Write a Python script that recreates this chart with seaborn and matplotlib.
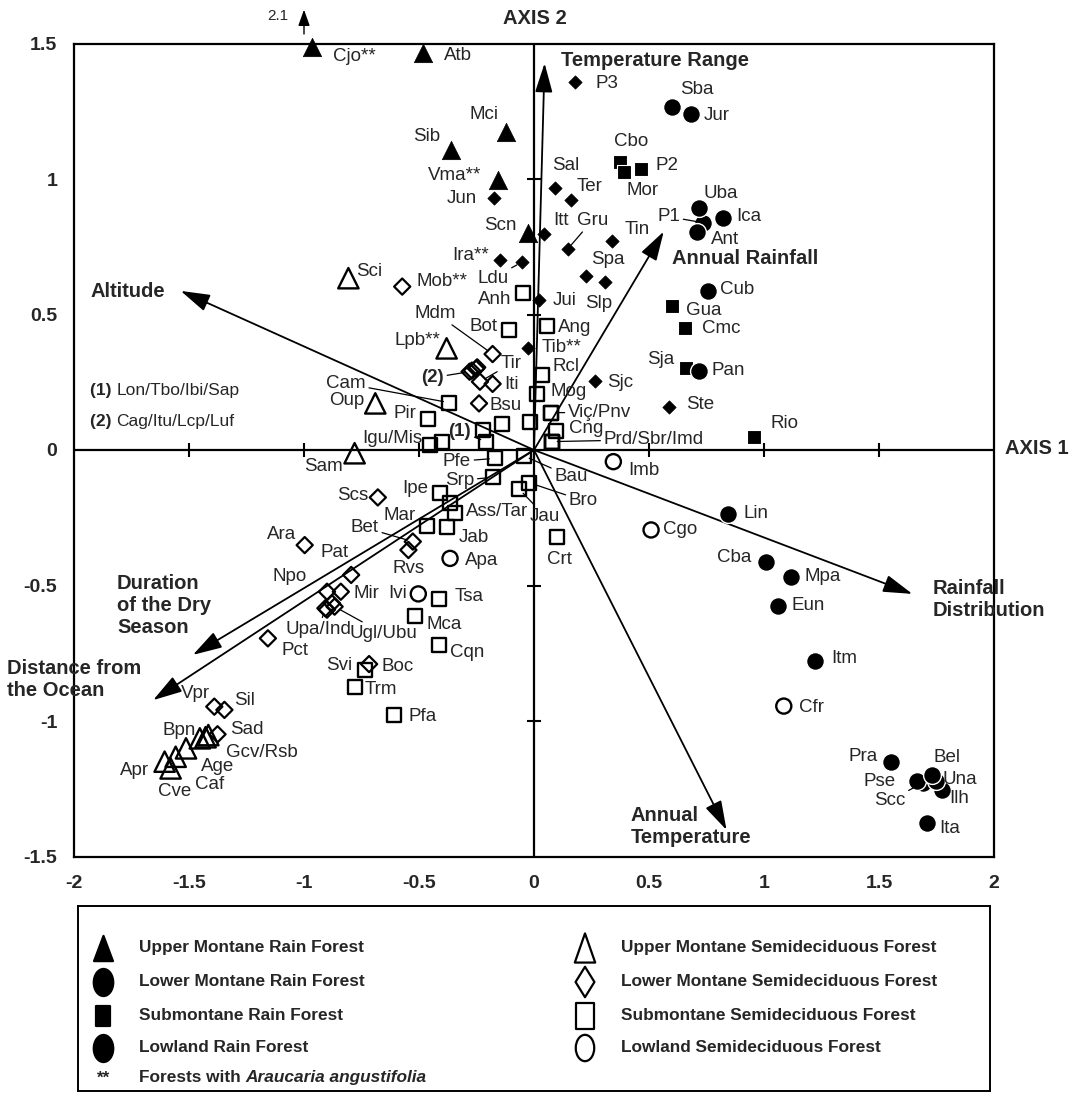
import numpy as np
import pandas as pd
import matplotlib
matplotlib.use("Agg")
import matplotlib.pyplot as plt
from matplotlib.markers import MarkerStyle
from matplotlib.transforms import Affine2D
import seaborn as sns

sns.set_style("white")
plt.rcParams["font.family"] = ["Liberation Sans", "DejaVu Sans"]

# ---------------- site scores (Axis 1, Axis 2) ----------------
umr_sites = ["Cjo", "Atb", "Mci", "Sib", "Vma", "Scn"]
umr_axis1 = [-0.967, -0.483, -0.121, -0.363, -0.155, -0.027]
umr_axis2 = [2.10, 1.464, 1.175, 1.107, 0.996, 0.800]

lmr_sites = ["Jun", "Ira", "Ldu", "P3", "Sal", "Ter", "Itt", "Gru", "Tin",
             "Spa", "Slp", "Jui", "Tib", "Sjc", "Ste"]
lmr_axis1 = [-0.173, -0.148, -0.053, 0.179, 0.091, 0.160, 0.043, 0.146, 0.341,
             0.224, 0.307, 0.023, -0.027, 0.265, 0.587]
lmr_axis2 = [0.929, 0.701, 0.693, 1.359, 0.966, 0.923, 0.796, 0.741, 0.772,
             0.642, 0.621, 0.553, 0.377, 0.256, 0.160]

smr_sites = ["Cbo", "Mor", "P2", "Gua", "Cmc", "Sja", "Rio"]
smr_axis1 = [0.373, 0.393, 0.466, 0.602, 0.658, 0.663, 0.957]
smr_axis2 = [1.064, 1.027, 1.037, 0.531, 0.449, 0.304, 0.049]

lr_sites = ["Sba", "Jur", "P1", "Uba", "Ica", "Ant", "Cub", "Pan", "Lin", "Cba",
            "Mpa", "Eun", "Itm", "Pra", "Scc", "Pse", "Ilh", "Una", "Bel", "Ita"]
lr_axis1 = [0.602, 0.681, 0.733, 0.716, 0.821, 0.708, 0.757, 0.719, 0.844, 1.010,
            1.116, 1.060, 1.222, 1.551, 1.690, 1.664, 1.773, 1.748, 1.729, 1.707]
lr_axis2 = [1.265, 1.240, 0.839, 0.892, 0.857, 0.806, 0.588, 0.293, -0.236, -0.412,
            -0.470, -0.574, -0.779, -1.150, -1.228, -1.220, -1.255, -1.220, -1.199, -1.375]

ums_sites = ["Sci", "Lpb", "Oup", "Sam", "Bpn", "Gcv", "Rsb", "Age", "Caf", "Apr", "Cve"]
ums_axis1 = [-0.807, -0.380, -0.690, -0.780, -1.453, -1.416, -1.428, -1.513, -1.558,
             -1.606, -1.580]
ums_axis2 = [0.634, 0.375, 0.172, -0.012, -1.064, -1.052, -1.060, -1.101, -1.132,
             -1.150, -1.175]

lms_sites = ["Mob", "Mdm", "Cag", "Itu", "Lcp", "Luf", "Tir", "Iti", "Bsu", "Scs",
             "Ara", "Pat", "Npo", "Mir", "Upa", "Ind", "Ugl", "Ubu", "Bet", "Rvs",
             "Pct", "Boc", "Vpr", "Sil", "Sad"]
lms_axis1 = [-0.573, -0.180, -0.280, -0.270, -0.247, -0.252, -0.235, -0.180, -0.239,
             -0.679, -0.997, -0.795, -0.900, -0.840, -0.907, -0.900, -0.867, -0.878,
             -0.527, -0.546, -1.157, -0.717, -1.390, -1.346, -1.376]
lms_axis2 = [0.603, 0.354, 0.289, 0.293, 0.305, 0.300, 0.252, 0.244, 0.172,
             -0.175, -0.351, -0.461, -0.523, -0.523, -0.584, -0.589, -0.578, -0.566,
             -0.338, -0.369, -0.695, -0.790, -0.947, -0.959, -1.049]

sms_sites = ["Anh", "Bot", "Ang", "Rcl", "Mog", "Viç", "Pnv", "Cng", "Prd", "Sbr",
             "Imd", "Cam", "Pir", "Igu", "Mis", "Lon", "Tbo", "Ibi", "Sap", "Pfe",
             "Bau", "Srp", "Bro", "Jau", "Ipe", "Ass", "Tar", "Mar", "Jab", "Crt",
             "Tsa", "Mca", "Cqn", "Svi", "Trm", "Pfa"]
sms_axis1 = [-0.046, -0.109, 0.055, 0.036, 0.012, 0.072, 0.072, 0.096, 0.077, 0.077,
             0.077, -0.370, -0.460, -0.452, -0.401, -0.223, -0.140, -0.209, -0.017,
             -0.170, -0.043, -0.180, -0.020, -0.064, -0.409, -0.343, -0.365, -0.467,
             -0.380, 0.099, -0.412, -0.517, -0.413, -0.735, -0.780, -0.607]
sms_axis2 = [0.578, 0.443, 0.458, 0.277, 0.207, 0.138, 0.138, 0.071, 0.031, 0.031,
             0.031, 0.175, 0.113, 0.018, 0.031, 0.074, 0.096, 0.031, 0.104,
             -0.031, -0.022, -0.101, -0.121, -0.145, -0.160, -0.234, -0.197, -0.280,
             -0.285, -0.322, -0.551, -0.613, -0.720, -0.812, -0.873, -0.978]

ls_sites = ["Imb", "Cgo", "Cfr", "Apa", "Ivi"]
ls_axis1 = [0.345, 0.509, 1.086, -0.365, -0.503]
ls_axis2 = [-0.043, -0.295, -0.945, -0.400, -0.531]

# ---------------- environmental vectors ----------------
env_names = ["Altitude", "Temperature Range", "Annual Rainfall", "Rainfall\nDistribution",
             "Annual\nTemperature", "Duration\nof the Dry\nSeason", "Distance from\nthe Ocean"]
env_axis1 = [-1.536, 0.046, 0.564, 1.645, 0.837, -1.483, -1.656]
env_axis2 = [0.587, 1.427, 0.806, -0.531, -1.402, -0.756, -0.923]

# ---------------- axes ticks ----------------
x_ticks = [-2, -1.5, -1, -0.5, 0, 0.5, 1, 1.5, 2]
x_tick_labels = ["-2", "-1.5", "-1", "-0.5", "0", "0.5", "1", "1.5", "2"]
y_ticks = [-1.5, -1, -0.5, 0, 0.5, 1, 1.5]
y_tick_labels = ["-1.5", "-1", "-0.5", "0", "0.5", "1", "1.5"]

forest_types = [
    ("Upper Montane Rain Forest", umr_sites, umr_axis1, umr_axis2),
    ("Lower Montane Rain Forest", lmr_sites, lmr_axis1, lmr_axis2),
    ("Submontane Rain Forest", smr_sites, smr_axis1, smr_axis2),
    ("Lowland Rain Forest", lr_sites, lr_axis1, lr_axis2),
    ("Upper Montane Semideciduous Forest", ums_sites, ums_axis1, ums_axis2),
    ("Lower Montane Semideciduous Forest", lms_sites, lms_axis1, lms_axis2),
    ("Submontane Semideciduous Forest", sms_sites, sms_axis1, sms_axis2),
    ("Lowland Semideciduous Forest", ls_sites, ls_axis1, ls_axis2),
]
df = pd.DataFrame(
    [(ft, s, a1, a2) for ft, ss, xs, ys in forest_types for s, a1, a2 in zip(ss, xs, ys)],
    columns=["forest", "site", "axis1", "axis2"],
)

Y_TOP = 1.488  # points beyond the frame are pinned to its upper edge
df["shown2"] = df["axis2"].clip(upper=Y_TOP)

marker_style = {
    "Upper Montane Rain Forest": dict(marker="^", s=175, fill=True, lw=0.5, ec="black"),
    "Lower Montane Rain Forest": dict(marker="D", s=46, fill=True, lw=0.5, ec="black"),
    "Submontane Rain Forest": dict(marker="s", s=92, fill=True, lw=0.8, ec="white"),
    "Lowland Rain Forest": dict(marker="o", s=165, fill=True, lw=1.0, ec="white"),
    "Upper Montane Semideciduous Forest": dict(marker="^", s=215, fill=False, lw=1.7, ec="black"),
    "Lower Montane Semideciduous Forest": dict(marker="D", s=68, fill=False, lw=1.6, ec="black"),
    "Submontane Semideciduous Forest": dict(marker="s", s=100, fill=False, lw=1.7, ec="black"),
    "Lowland Semideciduous Forest": dict(marker="o", s=118, fill=False, lw=1.7, ec="black"),
}

W, H = 1075, 1094
fig = plt.figure(figsize=(W / 100, H / 100), dpi=100)
fig.patch.set_facecolor("white")
ax = fig.add_axes([74 / W, 1 - 856.5 / H, 920 / W, 813 / H])
ax.set_xlim(-2, 2)
ax.set_ylim(-1.5, 1.5)

# main axes lines through the origin with small cross ticks
ax.axhline(0, color="black", lw=1.6, zorder=1)
ax.axvline(0, color="black", lw=1.6, zorder=1)
ax.scatter([-1.5, -1, -0.5, 0.5, 1, 1.5], [0] * 6, marker="|", s=90, lw=1.5, color="black", zorder=1)
ax.scatter([0] * 4, [-1, -0.5, 0.5, 1], marker="_", s=100, lw=1.5, color="black", zorder=1)

# environmental vectors
for name, ex, ey in zip(env_names, env_axis1, env_axis2):
    ax.annotate("", xy=(ex, ey), xytext=(0, 0),
                arrowprops=dict(arrowstyle="-|>,head_length=1.0,head_width=0.3",
                                mutation_scale=18, lw=1.3, color="black",
                                shrinkA=0, shrinkB=0), zorder=2)

vec_label_pos = {
    "Altitude": (-1.93, 0.584),
    "Temperature Range": (0.119, 1.439),
    "Annual Rainfall": (0.602, 0.707),
    "Rainfall\nDistribution": (1.733, -0.552),
    "Annual\nTemperature": (0.421, -1.388),
    "Duration\nof the Dry\nSeason": (-1.813, -0.572),
    "Distance from\nthe Ocean": (-2.29, -0.847),
}
for name in env_names:
    lx, ly = vec_label_pos[name]
    ax.text(lx, ly, name, ha="left", va="center", fontsize=14.5, fontweight="bold",
            linespacing=1.2, zorder=6, clip_on=False)

# site markers
for ft, _, _, _ in forest_types:
    st = marker_style[ft]
    sub = df[df["forest"] == ft]
    sns.scatterplot(data=sub, x="axis1", y="shown2", marker=st["marker"], s=st["s"],
                    color="black", ax=ax, legend=False, zorder=3, clip_on=False)
    coll = ax.collections[-1]
    coll.set_facecolor("black" if st["fill"] else "none")
    coll.set_edgecolor(st["ec"])
    coll.set_linewidth(st["lw"])

pos = {r.site: (r.axis1, r.shown2) for r in df.itertuples()}

# value of the point beyond the frame
cjo_y = umr_axis2[umr_sites.index("Cjo")]
ax.annotate("", xy=(-1.0, 1.625), xytext=(-1.0, 1.535), annotation_clip=False,
            arrowprops=dict(arrowstyle="-|>,head_length=0.7,head_width=0.25",
                            mutation_scale=14, lw=1.0, color="black", shrinkA=0, shrinkB=0))
ax.text(-1.07, 1.600, f"{cjo_y:.1f}", ha="right", va="center", fontsize=11, clip_on=False)

# site labels: (text, anchor site, dx px, dy px)
plain_labels = [
    ("Cjo**", "Cjo", 43, -10), ("Atb", "Atb", 35, -2), ("Mci", "Mci", -22, 17),
    ("Sib", "Sib", -24, 14), ("Vma**", "Vma", -44, 5), ("Jun", "Jun", -32, 0),
    ("Scn", "Scn", -27, 8), ("Ira**", "Ira", -29, 5), ("Sci", "Sci", 21, 7),
    ("Mob**", "Mob", 40, 5), ("Anh", "Anh", -29, -6), ("Bot", "Bot", -25, 3),
    ("Lpb**", "Lpb", -29, 8), ("Oup", "Oup", -29, 3), ("Bsu", "Bsu", 27, -2),
    ("Pir", "Pir", -23, 6), ("Igu/Mis", "Igu", -38, 7), ("Iti", "Iti", 19, -1),
    ("Jui", "Jui", 25, 0), ("Ang", "Ang", 28, -2), ("Tib**", "Tib", 34, 0),
    ("Rcl", "Rcl", 24, 8), ("Mog", "Mog", 32, 2), ("Cng", "Cng", 30, 2),
    ("Ipe", "Ipe", -25, 5), ("Ass/Tar", "Ass", 42, 2), ("Mar", "Mar", -27, 10),
    ("Jab", "Jab", 27, -10), ("Crt", "Crt", 3, -22), ("Apa", "Apa", 32, -2),
    ("Rvs", "Rvs", 0, -19), ("Ivi", "Ivi", -21, 0), ("Tsa", "Tsa", 30, 3),
    ("Sam", "Sam", -31, -13), ("Scs", "Scs", -25, 2), ("Ara", "Ara", -23, 11),
    ("Pat", "Pat", -17, 22), ("Npo", "Npo", -37, 15), ("Mir", "Mir", 26, -2),
    ("Pct", "Pct", 27, -12), ("Svi", "Svi", -26, 5), ("Boc", "Boc", 29, -2),
    ("Trm", "Trm", 26, -3), ("Pfa", "Pfa", 28, -1), ("Mca", "Mca", 29, -8),
    ("Cqn", "Cqn", 28, -7), ("Vpr", "Vpr", -19, 13), ("Sil", "Sil", 20, 9),
    ("Sad", "Sad", 29, 5), ("Bpn", "Bpn", -21, 8), ("Gcv/Rsb", "Gcv", 54, -17),
    ("Age", "Age", 32, -18), ("Caf", "Caf", 34, -28), ("Apr", "Apr", -30, -9),
    ("Cve", "Cve", 4, -23), ("P3", "P3", 32, -2), ("Sba", "Sba", 24, 18),
    ("Jur", "Jur", 26, -2), ("Cbo", "Cbo", 11, 20), ("P2", "P2", 26, 3),
    ("Mor", "Mor", 18, -19), ("Sal", "Sal", 11, 23), ("Ter", "Ter", 19, 13),
    ("Itt", "Itt", 17, 14), ("Tin", "Tin", 25, 11), ("Spa", "Spa", 22, 17),
    ("Slp", "Slp", -6, -22), ("Uba", "Uba", 22, 15), ("Ica", "Ica", 26, 1),
    ("Ant", "Ant", 28, -8), ("Cub", "Cub", 29, 1), ("Gua", "Gua", 31, -4),
    ("Cmc", "Cmc", 36, 0), ("Sja", "Sja", -26, 8), ("Pan", "Pan", 29, 0),
    ("Sjc", "Sjc", 25, -2), ("Ste", "Ste", 31, 2), ("Rio", "Rio", 30, 13),
    ("Imb", "Imb", 31, -9), ("Lin", "Lin", 28, 0), ("Cgo", "Cgo", 29, 0),
    ("Cba", "Cba", -32, 4), ("Mpa", "Mpa", 32, 1), ("Eun", "Eun", 30, 0),
    ("Itm", "Itm", 29, 3), ("Cfr", "Cfr", 28, -1), ("Pra", "Pra", -28, 5),
    ("Bel", "Bel", 15, 17), ("Pse", "Pse", -37, -1), ("Una", "Una", 24, 1),
    ("Ilh", "Ilh", 17, -8), ("Ita", "Ita", 23, -6),
]
leader_labels = [
    ("Ldu", "Ldu", -29, -16), ("Mdm", "Mdm", -57, 41), ("Tir", "Tir", 31, 18),
    ("(2)", "Cag", -37, -6), ("Cam", "Cam", -103, 19), ("(1)", "Ibi", -26, 10),
    ("Gru", "Gru", 25, 29), ("P1", "P1", -34, 6), ("Viç/Pnv", "Viç", 49, 0),
    ("Prd/Sbr/Imd", "Prd", 102, 2), ("Pfe", "Pfe", -38, -3), ("Srp", "Srp", -33, -3),
    ("Bau", "Bau", 47, -21), ("Bro", "Bro", 54, -18), ("Jau", "Jau", 26, -27),
    ("Bet", "Bet", -48, 14), ("Upa/Ind", "Upa", -7, -21), ("Ugl/Ubu", "Ugl", 49, -27),
    ("Scc", "Scc", -33, -18),
]
for txt, site, dx, dy in plain_labels:
    ax.annotate(txt, xy=pos[site], xytext=(dx, dy), textcoords="offset pixels",
                ha="center", va="center", fontsize=13.5, zorder=5)
for txt, site, dx, dy in leader_labels:
    ax.annotate(txt, xy=pos[site], xytext=(dx, dy), textcoords="offset pixels",
                ha="center", va="center", fontsize=13.5, zorder=5,
                fontweight="bold" if txt.startswith("(") else "normal",
                arrowprops=dict(arrowstyle="-", lw=0.9, color="black",
                                shrinkA=0, shrinkB=4))

# group keys
for key, members, gy in [("(1)", "Lon/Tbo/Ibi/Sap", 0.221), ("(2)", "Cag/Itu/Lcp/Luf", 0.104)]:
    t = ax.text(-1.93, gy, key + " ", ha="left", va="center", fontsize=12.5, fontweight="bold")
    ax.annotate(members, xy=(1, 0), xycoords=t, ha="left", va="bottom", fontsize=12.5)

ax.text(0.005, 1.594, "AXIS 2", ha="center", va="center", fontsize=14.5, fontweight="bold", clip_on=False)
ax.text(2.046, 0.007, "AXIS 1", ha="left", va="center", fontsize=14.5, fontweight="bold", clip_on=False)

ax.set_xticks(x_ticks)
ax.set_xticklabels(x_tick_labels, fontsize=14, fontweight="bold")
ax.set_yticks(y_ticks)
ax.set_yticklabels(y_tick_labels, fontsize=14, fontweight="bold")
ax.tick_params(axis="x", length=0, pad=13)
ax.tick_params(axis="y", length=0, pad=12)
ax.set_xlabel("")
ax.set_ylabel("")
ax.grid(False)
for sp in ax.spines.values():
    sp.set_visible(True)
    sp.set_color("black")
    sp.set_linewidth(1.6)

# ---------------- legend panel ----------------
LX0, LX1, LY0, LY1 = 78, 990, 906, 1091
lax = fig.add_axes([LX0 / W, 1 - LY1 / H, (LX1 - LX0) / W, (LY1 - LY0) / H])
lax.set_xlim(LX0, LX1)
lax.set_ylim(LY1, LY0)
lax.set_xticks([])
lax.set_yticks([])
for sp in lax.spines.values():
    sp.set_visible(True)
    sp.set_color("black")
    sp.set_linewidth(1.4)


def tall(mk, sx):
    return MarkerStyle(mk, transform=Affine2D().scale(sx, 1.0))


LEG_FS = 12.4
legend_rows = [
    ("Upper Montane Rain Forest", "^", True, 103, 948, 330, 0.75),
    ("Lower Montane Rain Forest", "o", True, 103, 982, 380, 0.72),
    ("Submontane Rain Forest", "s", True, 103, 1016, 210, 0.68),
    ("Lowland Rain Forest", "o", True, 103, 1048, 380, 0.72),
    ("Upper Montane Semideciduous Forest", "^", False, 585, 948, 440, 0.7),
    ("Lower Montane Semideciduous Forest", "D", False, 585, 982, 240, 0.62),
    ("Submontane Semideciduous Forest", "s", False, 585, 1016, 330, 0.7),
    ("Lowland Semideciduous Forest", "o", False, 585, 1048, 360, 0.7),
]
for label, mk, filled, mx, my, sz, sx in legend_rows:
    sns.scatterplot(x=[mx], y=[my], marker=tall(mk, sx), s=sz, color="black",
                    ax=lax, legend=False, clip_on=False)
    c = lax.collections[-1]
    c.set_facecolor("black" if filled else "none")
    c.set_edgecolor("black")
    c.set_linewidth(1.6)
    lax.text(mx + 36, my, label, ha="left", va="center", fontsize=LEG_FS, fontweight="bold")

lax.text(103, 1078, "**", ha="center", va="center", fontsize=LEG_FS, fontweight="bold")
t1 = lax.text(139, 1078, "Forests with ", ha="left", va="center", fontsize=LEG_FS,
              fontweight="bold")
lax.annotate("Araucaria angustifolia", xy=(1, 0), xycoords=t1, ha="left", va="bottom",
             fontsize=LEG_FS, fontweight="bold", fontstyle="italic")

fig.savefig("out.png", dpi=100, facecolor="white")
